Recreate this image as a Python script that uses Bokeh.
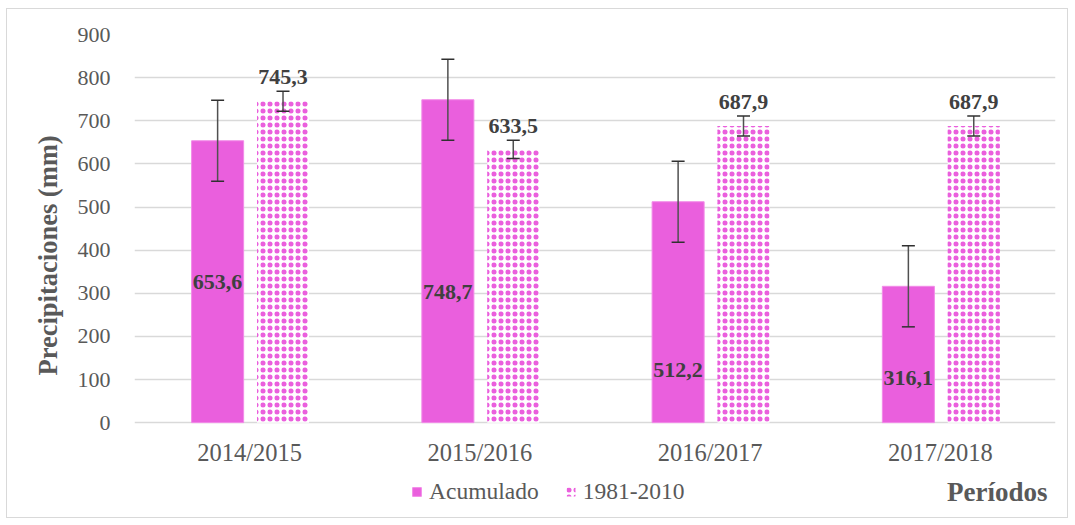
from bokeh.plotting import figure
from bokeh.models import (ColumnDataSource, FactorRange, Whisker, LabelSet, Legend,
                          LegendItem, Label, TeeHead, FixedTicker, Title)
from bokeh.transform import dodge
from bokeh.embed import file_html
from bokeh.resources import INLINE

periods = ["2014/2015", "2015/2016", "2016/2017", "2017/2018"]
acumulado = [653.6, 748.7, 512.2, 316.1]
acumulado_err = [94.0, 94.0, 94.0, 94.0]
normal = [745.3, 633.5, 687.9, 687.9]
normal_err = [23.0, 21.0, 23.0, 23.0]
acum_labels = ["653,6", "748,7", "512,2", "316,1"]
normal_labels = ["745,3", "633,5", "687,9", "687,9"]
acum_label_anchor = [325, 302, 121, 104]
y_ticks = [0, 100, 200, 300, 400, 500, 600, 700, 800, 900]

PINK = "#EA5FDD"
TXT = "#595959"
DARK = "#404040"
FONT = "Liberation Serif"

src = ColumnDataSource(dict(
    period=periods,
    acum=acumulado,
    acum_up=[v + e for v, e in zip(acumulado, acumulado_err)],
    acum_lo=[v - e for v, e in zip(acumulado, acumulado_err)],
    norm=normal,
    norm_up=[v + e for v, e in zip(normal, normal_err)],
    norm_lo=[v - e for v, e in zip(normal, normal_err)],
    acum_lab=acum_labels,
    norm_lab=normal_labels,
    acum_anchor=acum_label_anchor,
))

p = figure(x_range=FactorRange(*periods, range_padding=0), y_range=(-220, 900),
           width=1062, height=510, output_backend="svg", toolbar_location=None,
           min_border_left=127, min_border_right=14, min_border_top=25, min_border_bottom=2)
p.styles = {"border": "1px solid #d9d9d9", "margin": "8px 0 0 6px"}
p.outline_line_color = None

off_a, off_n, bw = -0.139, 0.145, 0.226
r1 = p.vbar(x=dodge("period", off_a, range=p.x_range), top="acum", width=bw, source=src,
            fill_color=PINK, line_color="#F28BE8", line_width=1)
r2 = p.vbar(x=dodge("period", off_n, range=p.x_range), top="norm", width=bw, source=src,
            fill_color="white", line_color=None, hatch_pattern="dot", hatch_color=PINK,
            hatch_scale=7, hatch_weight=1.5)
r3 = p.vbar(x=dodge("period", off_n, range=p.x_range), top="norm", width=bw, source=src,
            fill_alpha=0, line_color=None, hatch_pattern="ring", hatch_color=PINK,
            hatch_scale=7, hatch_weight=1.5)

for base_off, up, lo in [(off_a, "acum_up", "acum_lo"), (off_n, "norm_up", "norm_lo")]:
    w = Whisker(source=src, base=dodge("period", base_off, range=p.x_range), upper=up, lower=lo,
                level="overlay", line_color="#505050", line_width=1.5,
                upper_head=TeeHead(size=13, line_color="#303030", line_width=1.5),
                lower_head=TeeHead(size=13, line_color="#303030", line_width=1.5))
    p.add_layout(w)

p.add_layout(LabelSet(x=dodge("period", off_a, range=p.x_range), y="acum_anchor", text="acum_lab",
                      source=src, text_align="center", text_baseline="middle", level="overlay",
                      text_font=FONT, text_font_style="bold", text_font_size="22px",
                      text_color=DARK))
p.add_layout(LabelSet(x=dodge("period", off_n, range=p.x_range), y="norm_up", text="norm_lab",
                      source=src, text_align="center", text_baseline="bottom", y_offset=7,
                      level="overlay",
                      text_font=FONT, text_font_style="bold", text_font_size="22px",
                      text_color=DARK))

p.yaxis.ticker = FixedTicker(ticks=y_ticks)
p.yaxis.axis_line_color = None
p.yaxis.major_tick_line_color = None
p.yaxis.major_tick_out = 0
p.yaxis.major_tick_in = 0
p.yaxis.minor_tick_line_color = None
p.yaxis.major_label_standoff = 24
p.yaxis.major_label_text_font = FONT
p.yaxis.major_label_text_font_size = "22px"
p.yaxis.major_label_text_color = TXT

p.add_layout(Title(text="Precipitaciones (mm)", align="left", offset=142,
                   text_font=FONT, text_font_size="26.5px", text_font_style="bold",
                   text_color=TXT, standoff=24), "left")

p.xaxis.fixed_location = 0
p.xaxis.axis_line_color = None
p.xaxis.major_tick_line_color = None
p.xaxis.major_tick_out = 0
p.xaxis.major_tick_in = 0
p.xaxis.minor_tick_line_color = None
p.xaxis.major_label_standoff = 16
p.xaxis.major_label_text_font = FONT
p.xaxis.major_label_text_font_size = "24.5px"
p.xaxis.major_label_text_color = TXT

p.xgrid.grid_line_color = None
p.ygrid.grid_line_color = "#d9d9d9"
p.ygrid.grid_line_width = 1.5

legend = Legend(items=[LegendItem(label="Acumulado", renderers=[r1]),
                       LegendItem(label="1981-2010", renderers=[r2, r3])],
                orientation="horizontal", location=(277, 12),
                glyph_width=11, glyph_height=11, label_standoff=7, spacing=26,
                label_text_font="Liberation Serif, serif", label_text_font_size="23.5px",
                label_text_color=TXT,
                border_line_color=None, background_fill_alpha=0, padding=0, margin=0)
p.add_layout(legend)

p.add_layout(Label(x=3.965, y=-162, text="Períodos", text_align="right", text_baseline="middle",
                   text_font=FONT, text_font_style="bold", text_font_size="27px", text_color=TXT))

open("out.html", "w").write(file_html(p, INLINE))
